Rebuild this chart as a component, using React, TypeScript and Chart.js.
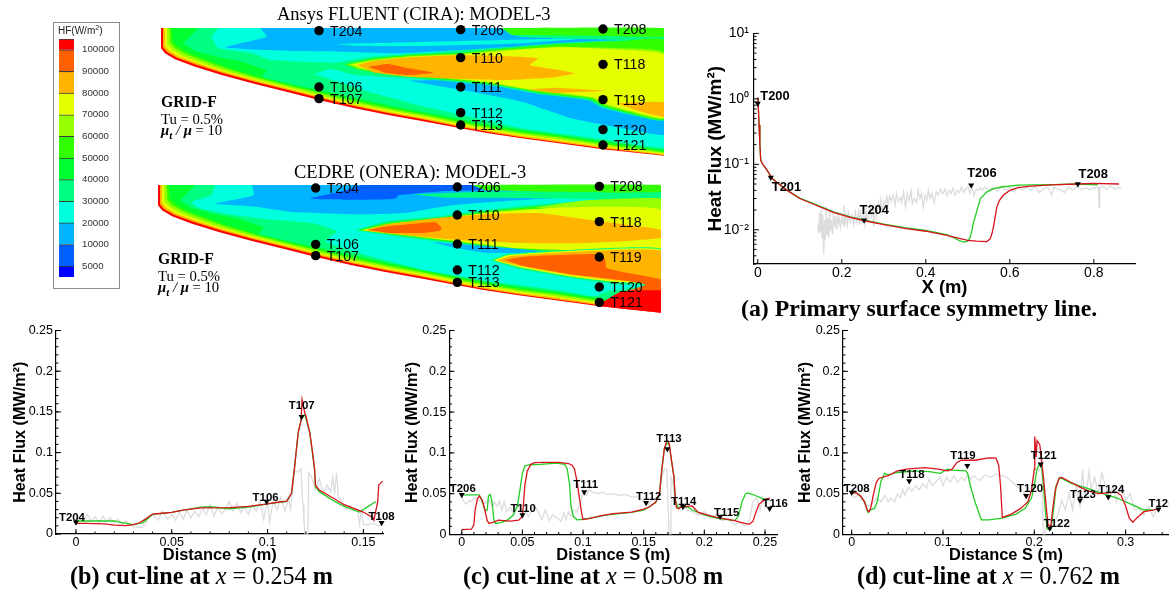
import React, { useEffect, useRef } from "react";
import { Chart, registerables } from "chart.js";

Chart.register(...registerables);

type P = [number, number];

/* ---------- line plot data ---------- */
const redA: P[] = [[0,1.05],[0.001,0.85],[0.003,0.4],[0.005,0.2],[0.007,0.115],[0.012,0.1],[0.02,0.085],[0.035,0.06],[0.05,0.05],[0.07,0.04],[0.1,0.03],[0.14,0.0235],[0.18,0.0185],[0.22,0.0155],[0.26,0.0135],[0.3,0.012],[0.35,0.0105],[0.4,0.0095],[0.45,0.0082],[0.48,0.0074],[0.5,0.0069],[0.52,0.0067],[0.545,0.0066],[0.553,0.0072],[0.558,0.009],[0.563,0.013],[0.569,0.022],[0.575,0.028],[0.585,0.034],[0.6,0.04],[0.62,0.044],[0.65,0.0465],[0.7,0.0485],[0.76,0.05],[0.8,0.051],[0.86,0.05]];
const greenA: P[] = [[0,1.0],[0.001,0.85],[0.003,0.4],[0.005,0.2],[0.007,0.115],[0.012,0.1],[0.02,0.085],[0.035,0.06],[0.05,0.05],[0.07,0.04],[0.1,0.0305],[0.14,0.024],[0.18,0.0188],[0.22,0.0158],[0.26,0.0138],[0.3,0.0122],[0.35,0.0108],[0.4,0.0098],[0.45,0.0084],[0.47,0.0074],[0.48,0.0068],[0.49,0.0065],[0.5,0.0067],[0.505,0.0075],[0.51,0.0098],[0.513,0.0125],[0.523,0.021],[0.53,0.03],[0.545,0.0376],[0.56,0.042],[0.58,0.045],[0.62,0.048],[0.7,0.049],[0.76,0.05],[0.81,0.0485]];
const grayA: P[] = [[0.143,0.012],[0.145,0.0088],[0.147,0.018],[0.149,0.009],[0.151,0.021],[0.153,0.0075],[0.155,0.017],[0.157,0.0042],[0.159,0.014],[0.161,0.007],[0.163,0.023],[0.165,0.0085],[0.167,0.015],[0.169,0.0075],[0.171,0.019],[0.173,0.0095],[0.175,0.014],[0.178,0.0085],[0.18,0.018],[0.183,0.011],[0.185,0.016],[0.187,0.01],[0.19,0.018],[0.192,0.012],[0.194,0.015],[0.197,0.011],[0.2,0.016],[0.203,0.012],[0.205,0.024],[0.207,0.011],[0.21,0.017],[0.213,0.012],[0.216,0.018],[0.22,0.013],[0.224,0.017],[0.228,0.012],[0.232,0.019],[0.236,0.013],[0.24,0.021],[0.242,0.012],[0.245,0.018],[0.248,0.013],[0.252,0.017],[0.255,0.012],[0.258,0.02],[0.262,0.014],[0.265,0.018],[0.268,0.023],[0.27,0.016],[0.274,0.022],[0.276,0.011],[0.28,0.024],[0.283,0.016],[0.287,0.026],[0.29,0.021],[0.293,0.029],[0.296,0.019],[0.3,0.027],[0.303,0.022],[0.307,0.032],[0.31,0.024],[0.314,0.033],[0.318,0.027],[0.322,0.034],[0.327,0.024],[0.33,0.036],[0.335,0.027],[0.34,0.031],[0.343,0.026],[0.347,0.038],[0.352,0.022],[0.356,0.035],[0.36,0.028],[0.365,0.039],[0.368,0.025],[0.372,0.03],[0.378,0.026],[0.382,0.04],[0.386,0.03],[0.39,0.036],[0.394,0.022],[0.398,0.033],[0.402,0.028],[0.406,0.04],[0.41,0.03],[0.414,0.036],[0.42,0.026],[0.425,0.038],[0.43,0.034],[0.435,0.042],[0.44,0.035],[0.445,0.042],[0.45,0.033],[0.455,0.04],[0.46,0.036],[0.465,0.043],[0.47,0.034],[0.475,0.04],[0.48,0.037],[0.485,0.045],[0.49,0.037],[0.495,0.042],[0.5,0.045],[0.505,0.036],[0.51,0.044],[0.515,0.033],[0.52,0.042],[0.525,0.04],[0.53,0.044],[0.535,0.04],[0.54,0.045],[0.55,0.04],[0.56,0.044],[0.57,0.039],[0.58,0.046],[0.59,0.04],[0.6,0.044],[0.61,0.038],[0.62,0.046],[0.63,0.04],[0.64,0.045],[0.65,0.04],[0.66,0.046],[0.67,0.037],[0.68,0.042],[0.69,0.045],[0.7,0.034],[0.705,0.044],[0.72,0.041],[0.73,0.037],[0.74,0.045],[0.75,0.04],[0.76,0.046],[0.77,0.041],[0.78,0.044],[0.79,0.041],[0.8,0.044],[0.811,0.044],[0.8125,0.022],[0.814,0.044],[0.82,0.047],[0.83,0.041],[0.84,0.047],[0.85,0.042],[0.86,0.044],[0.866,0.042]];

const redB: P[] = [[0,0.013],[0.005,0.013],[0.015,0.0125],[0.02,0.011],[0.026,0.0102],[0.03,0.0115],[0.033,0.0135],[0.036,0.018],[0.04,0.0245],[0.045,0.0255],[0.05,0.0265],[0.055,0.029],[0.065,0.032],[0.08,0.0325],[0.09,0.034],[0.1,0.037],[0.105,0.039],[0.11,0.0405],[0.1125,0.05],[0.114,0.08],[0.116,0.125],[0.1175,0.14],[0.118,0.165],[0.1195,0.148],[0.12,0.145],[0.122,0.125],[0.1235,0.1],[0.1245,0.08],[0.125,0.06],[0.127,0.054],[0.135,0.043],[0.14,0.036],[0.15,0.027],[0.155,0.02],[0.1555,0.017],[0.1575,0.04],[0.158,0.06],[0.16,0.065]];
const greenB: P[] = [[0,0.016],[0.02,0.0162],[0.024,0.014],[0.03,0.0115],[0.035,0.014],[0.04,0.024],[0.05,0.0265],[0.065,0.033],[0.07,0.0335],[0.08,0.031],[0.09,0.033],[0.1,0.037],[0.11,0.04],[0.1125,0.05],[0.114,0.08],[0.116,0.125],[0.118,0.145],[0.1195,0.146],[0.122,0.125],[0.1245,0.08],[0.125,0.058],[0.127,0.052],[0.135,0.04],[0.14,0.034],[0.148,0.027],[0.152,0.033],[0.1565,0.04]];
const grayB: P[] = [[0,0.018],[0.002,0.022],[0.004,0.017],[0.006,0.024],[0.008,0.016],[0.01,0.021],[0.012,0.014],[0.014,0.022],[0.016,0.016],[0.018,0.02],[0.02,0.013],[0.022,0.018],[0.024,0.012],[0.026,0.016],[0.028,0.012],[0.03,0.009],[0.034,0.008],[0.036,0.01],[0.038,0.022],[0.04,0.024],[0.043,0.017],[0.045,0.028],[0.048,0.018],[0.05,0.024],[0.052,0.017],[0.054,0.027],[0.056,0.018],[0.058,0.029],[0.06,0.02],[0.062,0.028],[0.064,0.021],[0.066,0.032],[0.068,0.024],[0.07,0.036],[0.072,0.022],[0.074,0.033],[0.076,0.025],[0.078,0.03],[0.08,0.04],[0.082,0.028],[0.084,0.038],[0.086,0.026],[0.088,0.033],[0.09,0.024],[0.092,0.036],[0.094,0.028],[0.096,0.04],[0.098,0.018],[0.1,0.042],[0.101,0.015],[0.103,0.04],[0.105,0.03],[0.107,0.046],[0.109,0.028],[0.111,0.043],[0.112,0.03],[0.114,0.078],[0.116,0.076],[0.1175,0.08],[0.118,0.05],[0.1185,0.035],[0.119,0.015],[0.1195,0],[0.121,0],[0.1215,0.075],[0.123,0.07],[0.125,0.055],[0.127,0.068],[0.129,0.05],[0.131,0.06],[0.133,0.052],[0.134,0.07],[0.135,0.05],[0.136,0.075],[0.137,0.045],[0.139,0.04],[0.141,0.03],[0.143,0.035],[0.145,0.028],[0.147,0.03],[0.148,0.012],[0.149,0.03],[0.15,0.012],[0.152,0.011],[0.155,0.013],[0.158,0.01],[0.16,0.012]];

const redC: P[] = [[0,0.006],[0.008,0.0065],[0.01,0.012],[0.011,0.03],[0.013,0.044],[0.0145,0.047],[0.017,0.042],[0.019,0.03],[0.021,0.017],[0.0225,0.0135],[0.027,0.0155],[0.03,0.0175],[0.04,0.0165],[0.047,0.0175],[0.05,0.022],[0.051,0.04],[0.052,0.06],[0.054,0.078],[0.057,0.086],[0.06,0.088],[0.07,0.0885],[0.08,0.0885],[0.088,0.087],[0.091,0.085],[0.093,0.08],[0.095,0.065],[0.097,0.045],[0.099,0.025],[0.1,0.0185],[0.105,0.0195],[0.115,0.023],[0.125,0.0255],[0.14,0.0275],[0.15,0.031],[0.155,0.034],[0.16,0.04],[0.163,0.05],[0.165,0.08],[0.167,0.105],[0.169,0.115],[0.171,0.112],[0.173,0.09],[0.175,0.07],[0.176,0.045],[0.177,0.033],[0.179,0.0315],[0.181,0.034],[0.186,0.0345],[0.19,0.035],[0.195,0.027],[0.2,0.025],[0.21,0.021],[0.225,0.017],[0.23,0.015],[0.237,0.0125],[0.24,0.016],[0.242,0.025],[0.245,0.037],[0.25,0.043],[0.254,0.0445]];
const greenC: P[] = [[0,0.0485],[0.0145,0.0485],[0.017,0.04],[0.0195,0.029],[0.021,0.03],[0.022,0.047],[0.0235,0.049],[0.025,0.04],[0.0265,0.018],[0.028,0.0135],[0.032,0.0145],[0.037,0.017],[0.042,0.023],[0.046,0.035],[0.048,0.055],[0.05,0.075],[0.052,0.084],[0.056,0.0855],[0.065,0.086],[0.078,0.0875],[0.085,0.086],[0.087,0.08],[0.089,0.06],[0.09,0.035],[0.092,0.022],[0.095,0.018],[0.1,0.0185],[0.12,0.024],[0.14,0.027],[0.15,0.03],[0.16,0.039],[0.163,0.05],[0.165,0.08],[0.167,0.105],[0.169,0.112],[0.171,0.11],[0.173,0.09],[0.175,0.07],[0.176,0.042],[0.178,0.034],[0.18,0.033],[0.186,0.034],[0.19,0.03],[0.2,0.024],[0.21,0.02],[0.225,0.017],[0.228,0.022],[0.231,0.04],[0.234,0.05],[0.236,0.051],[0.24,0.049],[0.248,0.044],[0.252,0.043]];
const grayC: P[] = [[0,0.045],[0.002,0.04],[0.004,0.037],[0.006,0.042],[0.008,0.04],[0.01,0.045],[0.013,0.043],[0.016,0.04],[0.018,0.037],[0.02,0.04],[0.023,0.042],[0.025,0.034],[0.027,0.04],[0.029,0.034],[0.031,0.041],[0.033,0.03],[0.035,0.04],[0.037,0.028],[0.04,0.033],[0.043,0.024],[0.046,0.037],[0.048,0.03],[0.05,0.024],[0.052,0.03],[0.055,0.022],[0.058,0.03],[0.06,0.035],[0.063,0.028],[0.066,0.018],[0.069,0.03],[0.072,0.017],[0.075,0.024],[0.079,0.02],[0.082,0.016],[0.084,0.027],[0.086,0.018],[0.088,0.028],[0.09,0.022],[0.092,0.03],[0.095,0.028],[0.098,0.04],[0.1,0.05],[0.103,0.048],[0.105,0.055],[0.108,0.052],[0.112,0.05],[0.116,0.052],[0.12,0.049],[0.125,0.05],[0.13,0.048],[0.135,0.049],[0.14,0.046],[0.145,0.046],[0.148,0.043],[0.151,0.04],[0.154,0.037],[0.157,0.042],[0.16,0.045],[0.163,0.05],[0.165,0.07],[0.167,0.08],[0.169,0.08],[0.17,0.04],[0.171,0.002],[0.1715,0],[0.1725,0],[0.1725,0.07],[0.174,0.065],[0.176,0.04],[0.178,0.033],[0.182,0.036],[0.186,0.03],[0.19,0.028],[0.195,0.024],[0.2,0.028],[0.205,0.02],[0.21,0.024],[0.215,0.017],[0.22,0.019],[0.225,0.012],[0.23,0.015],[0.233,0.01],[0.237,0.016],[0.24,0.04],[0.243,0.045],[0.246,0.03],[0.248,0.046],[0.25,0.035],[0.252,0.045]];

const redD: P[] = [[0,0.051],[0.005,0.051],[0.01,0.047],[0.014,0.04],[0.017,0.03],[0.019,0.028],[0.021,0.033],[0.024,0.05],[0.027,0.064],[0.03,0.069],[0.04,0.072],[0.05,0.078],[0.06,0.08],[0.08,0.082],[0.095,0.08],[0.105,0.078],[0.11,0.08],[0.115,0.088],[0.12,0.091],[0.135,0.091],[0.15,0.094],[0.158,0.0935],[0.161,0.085],[0.163,0.06],[0.1645,0.03],[0.165,0.021],[0.175,0.025],[0.185,0.032],[0.193,0.04],[0.197,0.055],[0.2,0.08],[0.2005,0.12],[0.202,0.095],[0.203,0.115],[0.206,0.11],[0.208,0.09],[0.21,0.07],[0.213,0.035],[0.215,0.012],[0.218,0.01],[0.22,0.03],[0.223,0.055],[0.227,0.069],[0.23,0.07],[0.24,0.064],[0.25,0.058],[0.26,0.053],[0.27,0.05],[0.28,0.051],[0.29,0.052],[0.295,0.048],[0.3,0.035],[0.304,0.02],[0.308,0.015],[0.312,0.02],[0.32,0.028],[0.33,0.03],[0.337,0.032]];
const greenD: P[] = [[0,0.051],[0.005,0.051],[0.01,0.047],[0.014,0.04],[0.018,0.027],[0.02,0.03],[0.025,0.032],[0.028,0.04],[0.032,0.065],[0.036,0.075],[0.04,0.073],[0.05,0.076],[0.07,0.078],[0.085,0.077],[0.097,0.075],[0.105,0.08],[0.11,0.079],[0.125,0.078],[0.127,0.075],[0.13,0.06],[0.135,0.04],[0.142,0.018],[0.15,0.018],[0.165,0.02],[0.18,0.025],[0.19,0.032],[0.197,0.045],[0.2,0.06],[0.203,0.08],[0.206,0.087],[0.208,0.085],[0.21,0.06],[0.212,0.03],[0.214,0.007],[0.218,0.006],[0.221,0.03],[0.224,0.06],[0.228,0.07],[0.24,0.063],[0.26,0.056],[0.275,0.05],[0.29,0.045],[0.31,0.035],[0.32,0.03],[0.33,0.03]];
const grayD: P[] = [[0,0.047],[0.004,0.045],[0.008,0.05],[0.01,0.042],[0.013,0.044],[0.016,0.036],[0.02,0.035],[0.024,0.04],[0.028,0.045],[0.032,0.04],[0.036,0.048],[0.04,0.04],[0.043,0.045],[0.047,0.04],[0.05,0.05],[0.053,0.045],[0.056,0.055],[0.058,0.048],[0.062,0.058],[0.066,0.053],[0.07,0.06],[0.074,0.055],[0.078,0.062],[0.082,0.057],[0.085,0.068],[0.088,0.06],[0.092,0.064],[0.097,0.07],[0.1,0.06],[0.104,0.07],[0.108,0.064],[0.112,0.072],[0.116,0.064],[0.12,0.07],[0.124,0.066],[0.127,0.074],[0.13,0.068],[0.134,0.072],[0.14,0.066],[0.146,0.073],[0.152,0.07],[0.158,0.074],[0.164,0.072],[0.17,0.07],[0.175,0.065],[0.18,0.06],[0.185,0.055],[0.19,0.05],[0.193,0.045],[0.196,0.05],[0.198,0.06],[0.2,0.08],[0.205,0.078],[0.208,0.085],[0.209,0.04],[0.21,0],[0.2115,0],[0.214,0.015],[0.218,0.01],[0.222,0.012],[0.226,0.025],[0.23,0.042],[0.234,0.03],[0.238,0.05],[0.242,0.03],[0.246,0.06],[0.25,0.035],[0.253,0.08],[0.255,0.045],[0.258,0.06],[0.26,0.078],[0.262,0.055],[0.266,0.07],[0.27,0.05],[0.274,0.075],[0.278,0.06],[0.282,0.045],[0.286,0.06],[0.29,0.04],[0.295,0.06],[0.3,0.042],[0.305,0.05],[0.31,0.03],[0.315,0.032],[0.32,0.024],[0.325,0.035],[0.33,0.022],[0.335,0.032]];

/* sensor markers: name, x, y */
type M = [string, number, number];
const markersA: M[] = [["T200",0,0.85],["T201",0.031,0.0628],["T204",0.253,0.014],["T206",0.508,0.048],["T208",0.762,0.05]];
const markersB: M[] = [["T204",0,0.0143],["T106",0.0995,0.04],["T107",0.1178,0.144],["T108",0.1595,0.0139]];
const markersC: M[] = [["T206",0,0.0487],["T110",0.05,0.024],["T111",0.101,0.052],["T112",0.152,0.039],["T113",0.1695,0.1047],["T114",0.1824,0.034],["T115",0.213,0.022],["T116",0.2538,0.032]];
const markersD: M[] = [["T208",0,0.0515],["T118",0.063,0.0657],["T119",0.1266,0.0844],["T120",0.191,0.0475],["T121",0.207,0.086],["T122",0.217,0.0077],["T123",0.25,0.042],["T124",0.281,0.046],["T125",0.336,0.031]];
/* label placement relative to its marker */
const labelOffsetsA: P[] = [[2.5,-7],[1,10],[-4.5,-10],[-4,-11.5],[0.7,-10]];
const labelOffsetsB: P[] = [[-17,-5],[-14,-4],[-13,-11],[-13,-6]];
const labelOffsetsC: P[] = [[-12,-6],[-12,-6],[-11,-7],[-10,-6],[-11,-10],[-12,-5],[-6,-4],[-7,-5]];
const labelOffsetsD: P[] = [[-8,-4],[-10,-6],[-17,-10],[-9,-7],[-10,-8],[-6,-4],[-10,-5],[-10,-7],[-10,-5]];

const yTicksLinear = [0, 0.05, 0.1, 0.15, 0.2, 0.25];
const yTicksLog = [0.01, 0.1, 1, 10];
const yLogLabels: Record<string, string> = { "0.01": "10⁻²", "0.1": "10⁻¹", "1": "10⁰", "10": "10¹" };
const xTicksA = [0, 0.2, 0.4, 0.6, 0.8];
const xTicksB = [0, 0.05, 0.1, 0.15];
const xTicksC = [0, 0.05, 0.1, 0.15, 0.2, 0.25];
const xTicksD = [0, 0.1, 0.2, 0.3];

/* ---------- colour legend ---------- */
const legendLabels = ["5000","10000","20000","30000","40000","50000","60000","70000","80000","90000","100000"];
const legendSpans = [0.5,1,1,1,1,1,1,1,1,1,1,0.5];
const legendColors = ["#0000ff","#0060ff","#00b4ff","#00ffdc","#00ff80","#00ff30","#32ff00","#96ff00","#e6ff00","#ffb400","#ff6000","#ff0000"];

/* ---------- contour surfaces, in mesh units ---------- */
const RED="#ff0000",ORR="#ff6000",ORA="#ffb400",YEL="#e6ff00",YGR="#96ff00",GRN="#32ff00",GR2="#00ff30",SPR="#00ff80",CYA="#00ffdc",SKY="#00b4ff",BLU="#0060ff";
type Layer = [string, P[]];
const surfaceBands: Layer[] = [
  [RED,[[18,24],[18,85],[30,100],[60,118],[120,140],[200,165],[300,192],[400,217],[492,240],[600,265],[700,285],[800,303],[917,325],[1000,340],[1100,355],[1200,368],[1344,388],[1527,407],[1527,24]]],
  [ORA,[[24,24],[24,82],[36,96],[66,113],[124,134],[203,159],[302,186],[402,211],[494,234],[600,259],[702,280],[802,298],[918,321],[1000,336],[1100,352],[1200,365],[1344,385],[1527,406],[1527,24]]],
  [YEL,[[30,24],[30,78],[42,92],[72,110],[128,130],[206,155],[304,182],[404,207],[496,230],[602,255],[704,276],[804,294],[920,317],[1002,332],[1102,348],[1202,361],[1344,381],[1527,403],[1527,24]]],
  [YGR,[[36,24],[37,72],[50,88],[80,106],[134,127],[210,152],[308,179],[408,204],[500,227],[606,252],[708,272],[808,290],[922,313],[1004,328],[1104,344],[1204,357],[1344,377],[1527,400],[1527,24]]],
  [GRN,[[44,24],[46,68],[60,84],[92,102],[145,122],[215,147],[312,175],[412,200],[505,222],[610,247],[712,268],[812,286],[925,309],[1008,324],[1108,340],[1208,352],[1344,372],[1527,397],[1527,24]]],
  [GR2,[[50,24],[54,65],[70,80],[100,98],[150,118],[220,143],[316,172],[416,197],[510,219],[615,243],[716,264],[816,282],[928,305],[1010,320],[1110,336],[1210,348],[1344,368],[1527,394],[1527,24]]],
  [SPR,[[130,24],[85,70],[118,92],[190,112],[260,125],[335,150],[320,172],[420,195],[520,216],[620,238],[720,260],[820,278],[930,300],[1010,316],[1110,331],[1210,344],[1344,363],[1527,390],[1527,24]]],
];
const fluentLayers: Layer[] = [
  [CYA,[[190,24],[170,50],[190,85],[290,100],[345,120],[540,128],[640,112],[800,100],[1000,85],[1300,60],[1527,52],[1527,24]]],
  [CYA,[[478,162],[525,147],[600,165],[760,175],[1000,195],[1100,210],[1300,250],[1527,300],[1527,382],[1344,358],[1100,325],[950,292],[800,258],[640,215]]],
  [SKY,[[315,24],[335,50],[210,82],[400,93],[560,95],[720,100],[880,92],[1080,80],[1300,68],[1440,60],[1300,55],[1070,45],[1045,24]]],
  [CYA,[[540,72],[800,66],[1050,60],[1300,54],[1100,70],[800,78],[600,77]]],
  [SKY,[[760,182],[880,180],[1010,192],[1075,208],[1160,222],[1300,240],[1340,262],[1420,283],[1527,298],[1527,345],[1400,325],[1250,295],[1100,245],[950,215],[850,198]]],
  [SPR,[[1060,40],[1527,46],[1527,62],[1300,58],[1100,52]]],
  [GRN,[[1040,24],[1527,24],[1527,50],[1350,48],[1070,45]]],
  [SPR,[[556,133],[640,114],[760,102],[900,97],[1000,87],[1200,70],[1400,60],[1527,56],[1527,300],[1420,282],[1340,262],[1300,240],[1150,222],[1080,208],[1000,195],[860,182],[700,168],[600,150]]],
  [GRN,[[568,133],[645,117],[762,105],[902,100],[1002,90],[1202,73],[1402,63],[1527,60],[1527,297],[1420,279],[1345,258],[1305,237],[1150,218],[1080,204],[1000,191],[860,178],[700,164],[605,148]]],
  [YGR,[[578,133],[650,120],[764,108],[904,103],[1004,93],[1204,80],[1400,85],[1527,98],[1527,295],[1425,276],[1350,255],[1310,234],[1150,214],[1070,200],[1000,188],[860,174],[700,160],[610,146]]],
  [YEL,[[590,133],[655,122],[770,110],[910,104],[1010,96],[1210,82],[1400,90],[1527,105],[1527,293],[1430,273],[1355,252],[1315,232],[1150,211],[1060,197],[1000,186],[860,172],[700,158],[620,144]]],
  [ORA,[[605,135],[660,122],[770,112],[900,106],[1040,108],[1150,115],[1125,135],[1200,148],[1258,160],[1200,172],[1060,180],[900,176],[760,170],[660,158]]],
  [ORR,[[640,140],[700,132],[760,145],[835,158],[760,165],[690,158]]],
  [ORA,[[1120,208],[1200,203],[1350,212],[1200,219]]],
  [ORA,[[1385,250],[1527,247],[1527,290],[1440,270]]],
];
const cedreLayers: Layer[] = [
  [CYA,[[189,24],[179,53],[119,75],[139,93],[239,113],[359,128],[479,138],[554,163],[520,193],[620,228],[809,278],[1009,313],[1209,338],[1329,358],[1360,345],[1527,310],[1527,24]]],
  [SKY,[[299,24],[305,55],[190,80],[300,88],[420,105],[620,112],[760,108],[900,85],[1100,70],[1290,60],[1527,55],[1527,24]]],
  [BLU,[[629,24],[560,45],[474,65],[620,68],[730,65],[740,55],[880,42],[1000,38],[959,24]]],
  [SPR,[[780,52],[1000,44],[1527,44],[1527,72],[1300,66],[1000,62],[880,62]]],
  [GRN,[[960,24],[1527,24],[1527,45],[1150,44],[1000,40]]],
  [SPR,[[609,160],[705,133],[860,118],[1010,98],[1210,78],[1527,68],[1527,225],[1250,226],[1100,222],[950,205],[750,180]]],
  [GRN,[[618,160],[710,137],[865,122],[1015,102],[1215,84],[1527,72],[1527,222],[1255,222],[1100,218],[950,200],[750,176]]],
  [YGR,[[1150,92],[1300,70],[1527,64],[1527,100],[1350,95]]],
  [YEL,[[628,160],[715,140],[870,125],[1020,105],[1220,92],[1527,98],[1527,220],[1250,220],[1100,214],[950,197],[750,173]]],
  [ORA,[[639,161],[699,143],[859,123],[1009,111],[1159,108],[1309,128],[1527,158],[1527,183],[1309,198],[1109,198],[909,188],[749,173]]],
  [ORR,[[649,158],[709,148],[849,136],[869,153],[864,161],[809,168],[709,168]]],
  [SKY,[[839,195],[1009,208],[1189,225],[1009,228],[909,213]]],
  [SPR,[[1015,250],[1065,231],[1249,219],[1527,215],[1527,318],[1400,322],[1250,302],[1100,276]]],
  [YEL,[[1024,250],[1069,234],[1249,222],[1527,218],[1527,313],[1409,316],[1259,299],[1109,272]]],
  [ORA,[[1034,251],[1075,238],[1249,225],[1527,221],[1527,308],[1409,312],[1259,295],[1109,268]]],
  [ORR,[[1059,248],[1129,238],[1349,231],[1359,248],[1364,273],[1429,288],[1527,308],[1527,345],[1420,345],[1480,323],[1409,310],[1259,292],[1109,266]]],
  [RED,[[1527,340],[1410,343],[1352,376],[1344,387],[1527,407]]],
];
const fluentDots: M[] = [["T204",492,32],["T206",917,29],["T208",1344,27],["T110",917,113],["T118",1344,133],["T111",917,201],["T119",1344,239],["T106",492,201],["T107",492,236],["T112",917,278],["T113",917,315],["T120",1344,329],["T121",1344,375]];
const cedreDots: M[] = [["T204",491,33],["T206",916,30],["T208",1342,28],["T110",916,114],["T118",1342,134],["T111",916,201],["T119",1342,240],["T106",491,202],["T107",491,236],["T112",916,279],["T113",916,316],["T120",1342,330],["T121",1342,376]];

/* ---------- drawing helpers ---------- */
const SANS = "'Liberation Sans', Arial, sans-serif";
const SERIF = "'Liberation Serif', 'Times New Roman', serif";

function axisMarks(cfg: { xMajor: number[]; yMajor: number[]; xMinorStep?: number; yMinorStep?: number; log?: boolean; labels: M[]; offsets: P[]; labelFont: string }) {
  return {
    id: "axisMarks",
    afterDraw(chart: any) {
      const { ctx, chartArea, scales } = chart;
      const { left, bottom, right, top } = chartArea;
      ctx.save();
      ctx.strokeStyle = "#000";
      ctx.lineWidth = 1;
      const xt = (v: number, l: number) => {
        const p = scales.x.getPixelForValue(v);
        if (p < left || p > right) return;
        ctx.beginPath(); ctx.moveTo(p, bottom); ctx.lineTo(p, bottom - l); ctx.stroke();
      };
      const yt = (v: number, l: number) => {
        const p = scales.y.getPixelForValue(v);
        if (p < top - 0.5 || p > bottom) return;
        ctx.beginPath(); ctx.moveTo(left, p); ctx.lineTo(left + l, p); ctx.stroke();
      };
      cfg.xMajor.forEach((v) => xt(v, 5));
      cfg.yMajor.forEach((v) => yt(v, 5));
      if (cfg.xMinorStep) for (let v = 0; v < scales.x.max; v += cfg.xMinorStep) xt(v, 2.5);
      if (cfg.yMinorStep) for (let v = 0; v < scales.y.max + 1e-9; v += cfg.yMinorStep) yt(v, 2.5);
      if (cfg.log) for (const d of [0.001, 0.01, 0.1, 1]) for (let k = 2; k < 10; k++) yt(d * k, 2.5);
      ctx.fillStyle = "#000";
      ctx.font = cfg.labelFont;
      ctx.textAlign = "left";
      ctx.textBaseline = "middle";
      cfg.labels.forEach((m, i) => {
        ctx.fillText(m[0], scales.x.getPixelForValue(m[1]) + cfg.offsets[i][0], scales.y.getPixelForValue(m[2]) + cfg.offsets[i][1]);
      });
      ctx.restore();
    },
  };
}

type PlotCfg = {
  canvas: HTMLCanvasElement;
  L: number; T: number; W: number; H: number;
  area: { l: number; r: number; t: number; b: number };
  xMin: number; xMax: number;
  red: P[]; green: P[]; gray: P[]; markers: M[]; offsets: P[];
  xTicks: number[]; xMinorStep?: number; log?: boolean;
  xTitle: string; titleFont: number; yTitleFont: number; yTitlePad: number; tickFont: number; labelFont: string;
  xTickPad: number; yTickPad: number;
};

function makePlot(c: PlotCfg) {
  const line = (data: P[], color: string) => ({
    data, borderColor: color, borderWidth: 1.3, pointRadius: 0, showLine: true, tension: 0, fill: false,
  });
  c.canvas.width = c.W; c.canvas.height = c.H;
  const yTicks = c.log ? yTicksLog : yTicksLinear;
  return new Chart(c.canvas, {
    type: "scatter",
    data: {
      datasets: [
        { data: c.markers.map((m) => [m[1], m[2]]), pointStyle: "triangle", rotation: 180, pointRadius: 3.5, backgroundColor: "#000", borderColor: "#000", borderWidth: 0, showLine: false, clip: false },
        line(c.red, "#d8141e"),
        line(c.green, "#22cc22"),
        line(c.gray, "#dcdcdc"),
      ] as any,
    },
    options: {
      animation: false, responsive: false, devicePixelRatio: 1, events: [],
      layout: { autoPadding: false, padding: { top: c.area.t - c.T, right: c.L + c.W - c.area.r, left: 0, bottom: 0 } },
      plugins: { legend: { display: false }, tooltip: { enabled: false } },
      scales: {
        x: {
          type: "linear", min: c.xMin, max: c.xMax,
          grid: { display: false, drawTicks: false },
          border: { display: true, color: "#000", width: 1.2 },
          afterBuildTicks: (s: any) => { s.ticks = c.xTicks.map((value) => ({ value })); },
          afterFit: (s: any) => { s.height = c.T + c.H - c.area.b; },
          ticks: { color: "#000", padding: c.xTickPad, maxRotation: 0, autoSkip: false, font: { family: SANS, size: c.tickFont }, callback: (v: any) => String(v) },
          title: { display: true, text: c.xTitle, color: "#000", padding: { top: 0, bottom: 0 }, font: { family: SANS, size: c.titleFont, weight: "bold" } },
        },
        y: {
          type: c.log ? "logarithmic" : "linear", min: c.log ? 0.003 : 0, max: c.log ? 10 : 0.25,
          grid: { display: false, drawTicks: false },
          border: { display: true, color: "#000", width: 1.2 },
          afterBuildTicks: (s: any) => { s.ticks = yTicks.map((value) => ({ value })); },
          afterFit: (s: any) => { s.width = c.area.l - c.L; },
          ticks: { color: "#000", padding: c.yTickPad, autoSkip: false, font: { family: SANS, size: c.tickFont }, callback: (v: any) => (c.log ? yLogLabels[String(v)] : String(v)) },
          title: { display: true, text: "Heat Flux (MW/m²)", color: "#000", padding: { top: c.yTitlePad, bottom: 0 }, font: { family: SANS, size: c.yTitleFont, weight: "bold" } },
        },
      },
    } as any,
    plugins: [axisMarks({ xMajor: c.xTicks, yMajor: yTicks, xMinorStep: c.xMinorStep, yMinorStep: c.log ? undefined : 0.01, log: c.log, labels: c.markers, offsets: c.offsets, labelFont: `bold ${c.labelFont}px ${SANS}` })] as any,
  });
}

function makeSurface(canvas: HTMLCanvasElement, layers: Layer[], dots: M[]) {
  canvas.width = 509; canvas.height = 145;
  const painted = [...surfaceBands, ...layers].reverse();
  const labelPlugin = {
    id: "dotLabels",
    afterDraw(chart: any) {
      const { ctx, scales } = chart;
      ctx.save();
      ctx.fillStyle = "#000";
      ctx.font = `14.2px ${SANS}`;
      ctx.textBaseline = "middle";
      ctx.textAlign = "left";
      dots.forEach((d) => ctx.fillText(d[0], scales.x.getPixelForValue(d[1]) + 11, scales.y.getPixelForValue(d[2]) + 1));
      ctx.restore();
    },
  };
  return new Chart(canvas, {
    type: "scatter",
    data: {
      datasets: [
        { data: dots.map((d) => [d[1], d[2]]), pointRadius: 4.7, backgroundColor: "#000", borderWidth: 0, showLine: false, clip: false },
        ...painted.map(([color, pts], i) => ({
          data: pts, showLine: true, pointRadius: 0, borderWidth: 0, borderColor: color, backgroundColor: color,
          fill: "shape", tension: i >= layers.length ? 0 : 0.15,
        })),
      ] as any,
    },
    options: {
      animation: false, responsive: false, devicePixelRatio: 1, events: [],
      layout: { autoPadding: false, padding: 0 },
      plugins: { legend: { display: false }, tooltip: { enabled: false } },
      scales: {
        x: { type: "linear", display: false, min: 0, max: 1527 },
        y: { type: "linear", display: false, min: 0, max: 435, reverse: true },
      },
    } as any,
    plugins: [labelPlugin] as any,
  });
}

function makeLegend(canvas: HTMLCanvasElement) {
  canvas.width = 62; canvas.height = 250;
  return new Chart(canvas, {
    type: "bar",
    data: {
      labels: [""],
      datasets: legendSpans.map((s, i) => ({
        data: [s], backgroundColor: legendColors[i], borderColor: "#3c3c3c", borderWidth: { top: 1, bottom: 0, left: 0, right: 0 },
        categoryPercentage: 1, barPercentage: 1, borderSkipped: false,
      })) as any,
    },
    options: {
      animation: false, responsive: false, devicePixelRatio: 1, events: [],
      layout: { autoPadding: false, padding: { top: 5, bottom: 7, left: 0, right: 0 } },
      plugins: { legend: { display: false }, tooltip: { enabled: false } },
      scales: {
        x: { stacked: true, display: false },
        y: {
          stacked: true, position: "right", min: 0, max: 11,
          grid: { display: false, drawTicks: false }, border: { display: false },
          afterBuildTicks: (s: any) => { s.ticks = legendLabels.map((_, i) => ({ value: i + 0.5 })); },
          afterFit: (s: any) => { s.width = 47; s.paddingTop = 0; s.paddingBottom = 0; },
          ticks: {
            color: "#333", padding: 8, crossAlign: "near", autoSkip: false,
            font: { family: SANS, size: 9.7 },
            callback: (v: any) => legendLabels[Math.round(Number(v) - 0.5)],
          },
        },
      },
    } as any,
  });
}

const abs = (left: number, top: number, extra: React.CSSProperties = {}): React.CSSProperties => ({
  position: "absolute", left, top, whiteSpace: "nowrap", ...extra,
});

function Caption({ left, cy, size, head, tail, value }: { left: number; cy: number; size: number; head: string; tail?: string; value?: string }) {
  return (
    <div style={abs(left, cy - 14, { fontFamily: SERIF, fontSize: size, lineHeight: "28px", color: "#000" })}>
      <b>{head}</b>
      {value ? (<><i> x</i> = {value} <b>{tail}</b></>) : null}
    </div>
  );
}

function Notes({ left, top }: { left: number; top: number }) {
  return (
    <>
      <div style={abs(left, top, { fontFamily: SERIF, fontSize: 15.7, lineHeight: "16px", fontWeight: "bold" })}>GRID-F</div>
      <div style={abs(left, top + 18, { fontFamily: SERIF, fontSize: 14.7, lineHeight: "14px" })}>Tu = 0.5%</div>
      <div style={abs(left, top + 29, { fontFamily: SERIF, fontSize: 14.7, lineHeight: "15px" })}>
        <b><i>μ<sub style={{ fontSize: 11, lineHeight: 0 }}>t</sub></i></b> <i>/</i> <b><i>μ</i></b> = 10
      </div>
    </>
  );
}

export default function App() {
  const legendRef = useRef<HTMLCanvasElement>(null);
  const fluentRef = useRef<HTMLCanvasElement>(null);
  const cedreRef = useRef<HTMLCanvasElement>(null);
  const aRef = useRef<HTMLCanvasElement>(null);
  const bRef = useRef<HTMLCanvasElement>(null);
  const cRef = useRef<HTMLCanvasElement>(null);
  const dRef = useRef<HTMLCanvasElement>(null);

  useEffect(() => {
    const small = { titleFont: 16.4, yTitleFont: 16.2, tickFont: 12.5, labelFont: "11.4", xTickPad: 1, yTickPad: 3 };
    const charts = [
      makeLegend(legendRef.current!),
      makeSurface(fluentRef.current!, fluentLayers, fluentDots),
      makeSurface(cedreRef.current!, cedreLayers, cedreDots),
      makePlot({ canvas: aRef.current!, L: 700, T: 20, W: 440, H: 279, area: { l: 754, r: 1135, t: 32, b: 264 }, xMin: -0.009, xMax: 0.898, red: redA, green: greenA, gray: grayA, markers: markersA, offsets: labelOffsetsA, xTicks: xTicksA, log: true, xTitle: "X (m)", titleFont: 18.4, yTitleFont: 19, yTitlePad: 4.3, tickFont: 14, labelFont: "12.9", xTickPad: 1, yTickPad: 5 }),
      makePlot({ canvas: bRef.current!, L: 0, T: 320, W: 400, H: 245, area: { l: 56, r: 383.5, t: 329.5, b: 534 }, xMin: -0.0104, xMax: 0.1605, red: redB, green: greenB, gray: grayB, markers: markersB, offsets: labelOffsetsB, xTicks: xTicksB, xMinorStep: 0.01, xTitle: "Distance S (m)", yTitlePad: 10.4, ...small }),
      makePlot({ canvas: cRef.current!, L: 400, T: 320, W: 392, H: 245, area: { l: 449.5, r: 777, t: 329.5, b: 534.5 }, xMin: -0.0101, xMax: 0.2599, red: redC, green: greenC, gray: grayC, markers: markersC, offsets: labelOffsetsC, xTicks: xTicksC, xMinorStep: 0.01, xTitle: "Distance S (m)", yTitlePad: 2.4, ...small }),
      makePlot({ canvas: dRef.current!, L: 790, T: 320, W: 379, H: 245, area: { l: 843, r: 1169, t: 329.5, b: 534.5 }, xMin: -0.0095, xMax: 0.3475, red: redD, green: greenD, gray: grayD, markers: markersD, offsets: labelOffsetsD, xTicks: xTicksD, xMinorStep: 0.02, xTitle: "Distance S (m)", yTitlePad: 5.4, ...small }),
    ];
    return () => charts.forEach((c) => c.destroy());
  }, []);

  const place = (left: number, top: number): React.CSSProperties => ({ position: "absolute", left, top, display: "block" });

  return (
    <div style={{ position: "absolute", left: 0, top: 0, width: 1169, height: 590, overflow: "hidden", background: "#fff" }}>
      <canvas ref={fluentRef} style={place(155, 20)} />
      <canvas ref={cedreRef} style={place(152, 177)} />
      <canvas ref={aRef} style={place(700, 20)} />
      <canvas ref={bRef} style={place(0, 320)} />
      <canvas ref={cRef} style={place(400, 320)} />
      <canvas ref={dRef} style={place(790, 320)} />

      <div style={{ position: "absolute", left: 53, top: 22, width: 65, height: 265, border: "1px solid #8c8c8c", background: "#fff" }} />
      <canvas ref={legendRef} style={place(59, 34)} />
      <div style={abs(58, 24, { fontFamily: SANS, fontSize: 10, lineHeight: "14px", color: "#222" })}>
        HF(W/m<sup style={{ fontSize: 7, lineHeight: 0 }}>2</sup>)
      </div>

      <div style={abs(277, 2, { fontFamily: SERIF, fontSize: 18.5, lineHeight: "24px" })}>Ansys FLUENT (CIRA): MODEL-3</div>
      <div style={abs(294, 160, { fontFamily: SERIF, fontSize: 18.5, lineHeight: "24px" })}>CEDRE (ONERA): MODEL-3</div>
      <Notes left={161} top={94} />
      <Notes left={158} top={251} />

      <Caption left={741} cy={308} size={23.8} head="(a) Primary surface symmetry line." />
      <Caption left={70} cy={576} size={24.2} head="(b) cut-line at" value="0.254" tail="m" />
      <Caption left={463} cy={576} size={24.2} head="(c) cut-line at" value="0.508" tail="m" />
      <Caption left={857} cy={576} size={24.2} head="(d) cut-line at" value="0.762" tail="m" />
    </div>
  );
}
